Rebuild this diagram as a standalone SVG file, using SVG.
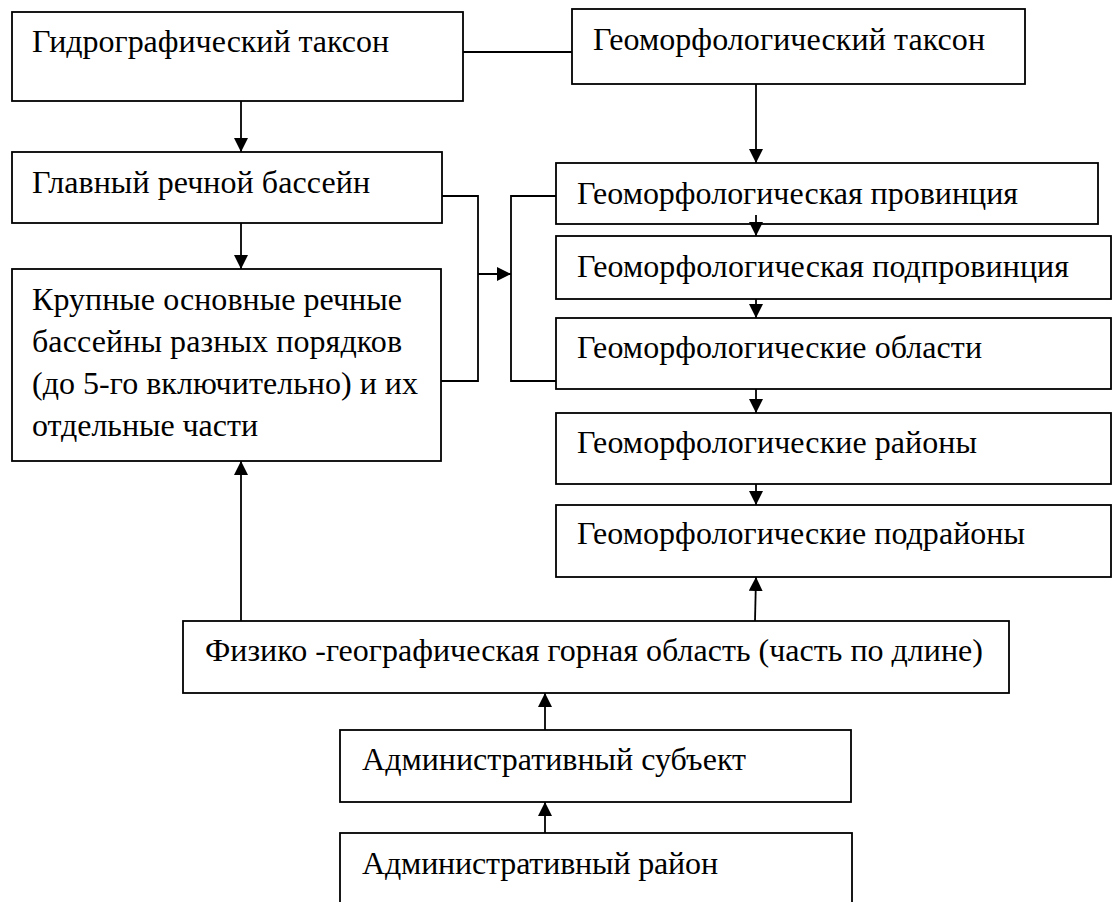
<svg xmlns="http://www.w3.org/2000/svg" width="1116" height="902" viewBox="0 0 1116 902">
  <style>
    .box { fill: #fff; stroke: #000; stroke-width: 1.8; }
    .lbl { font-family: 'Liberation Serif', 'Times New Roman', serif; font-size: 32px; fill: #000; }
    .wire { fill: none; stroke: #000; stroke-width: 1.8; }
    .arr { fill: none; stroke: #000; stroke-width: 1.8; marker-end: url(#head); }
  </style>
  <defs>
    <marker id="head" viewBox="0 0 14 14" refX="14" refY="7" markerWidth="14" markerHeight="14" markerUnits="userSpaceOnUse" orient="auto">
      <path d="M0,0 L14,7 L0,14 Z" fill="#000"/>
    </marker>
  </defs>
  <rect width="1116" height="902" fill="#fff"/>

  <!-- hydrographic branch -->
  <g id="hydro-taxon">
    <rect class="box" x="12" y="12" width="451" height="89"/>
    <text class="lbl" x="32" y="52" textLength="357">Гидрографический таксон</text>
  </g>
  <g id="main-basin">
    <rect class="box" x="12" y="152" width="430" height="71"/>
    <text class="lbl" x="32" y="193" textLength="338">Главный речной бассейн</text>
  </g>
  <g id="large-basins">
    <rect class="box" x="12" y="269" width="429" height="192"/>
    <text class="lbl" x="32" y="310" textLength="370">Крупные основные речные</text>
    <text class="lbl" x="32" y="352" textLength="370">бассейны разных порядков</text>
    <text class="lbl" x="32" y="394" textLength="386">(до 5-го включительно) и их</text>
    <text class="lbl" x="32" y="436" textLength="226">отдельные части</text>
  </g>

  <!-- geomorphological branch -->
  <g id="geo-taxon">
    <rect class="box" x="572" y="9" width="453" height="75"/>
    <text class="lbl" x="593" y="50" textLength="392">Геоморфологический таксон</text>
  </g>
  <g id="geo-province">
    <rect class="box" x="556" y="163" width="542" height="61"/>
    <text class="lbl" x="577" y="204" textLength="441">Геоморфологическая провинция</text>
  </g>
  <g id="geo-subprovince">
    <rect class="box" x="556" y="236" width="555" height="63"/>
    <text class="lbl" x="577" y="277" textLength="492">Геоморфологическая подпровинция</text>
  </g>
  <g id="geo-regions">
    <rect class="box" x="556" y="318" width="555" height="71"/>
    <text class="lbl" x="577" y="358" textLength="405">Геоморфологические области</text>
  </g>
  <g id="geo-districts">
    <rect class="box" x="556" y="413" width="555" height="71"/>
    <text class="lbl" x="577" y="453" textLength="400">Геоморфологические районы</text>
  </g>
  <g id="geo-subdistricts">
    <rect class="box" x="556" y="505" width="555" height="72"/>
    <text class="lbl" x="577" y="544" textLength="448">Геоморфологические подрайоны</text>
  </g>

  <!-- physical-geographic and administrative units -->
  <g id="phys-geo-area">
    <rect class="box" x="183" y="621" width="826" height="72"/>
    <text class="lbl" x="205" y="661" textLength="778">Физико -географическая горная область (часть по длине)</text>
  </g>
  <g id="admin-subject">
    <rect class="box" x="340" y="730" width="511" height="72"/>
    <text class="lbl" x="362" y="770" textLength="384">Административный субъект</text>
  </g>
  <g id="admin-district">
    <rect class="box" x="340" y="833" width="512" height="80"/>
    <text class="lbl" x="362" y="874" textLength="356">Административный район</text>
  </g>

  <!-- connectors -->
  <g id="connectors">
    <line class="wire" x1="463" y1="52" x2="572" y2="52"/>
    <line class="arr" x1="241" y1="101" x2="241" y2="152"/>
    <line class="arr" x1="241" y1="223" x2="241" y2="269"/>
    <line class="arr" x1="756" y1="84" x2="756" y2="163"/>
    <line class="arr" x1="756" y1="215" x2="756" y2="236"/>
    <line class="arr" x1="756" y1="299" x2="756" y2="318"/>
    <line class="arr" x1="756" y1="389" x2="756" y2="413"/>
    <line class="arr" x1="756" y1="484" x2="756" y2="505"/>
    <!-- bracket joining the basins to the geomorphological units -->
    <polyline class="wire" points="442,196 478,196 478,381 441,381"/>
    <line class="arr" x1="478" y1="274" x2="511" y2="274"/>
    <polyline class="wire" points="556,196 511,196 511,381 556,381"/>
    <!-- upward links -->
    <line class="arr" x1="241" y1="621" x2="241" y2="461"/>
    <line class="arr" x1="755" y1="621" x2="756" y2="577"/>
    <line class="arr" x1="545" y1="730" x2="545" y2="693"/>
    <line class="arr" x1="545" y1="833" x2="545" y2="802"/>
  </g>
</svg>
